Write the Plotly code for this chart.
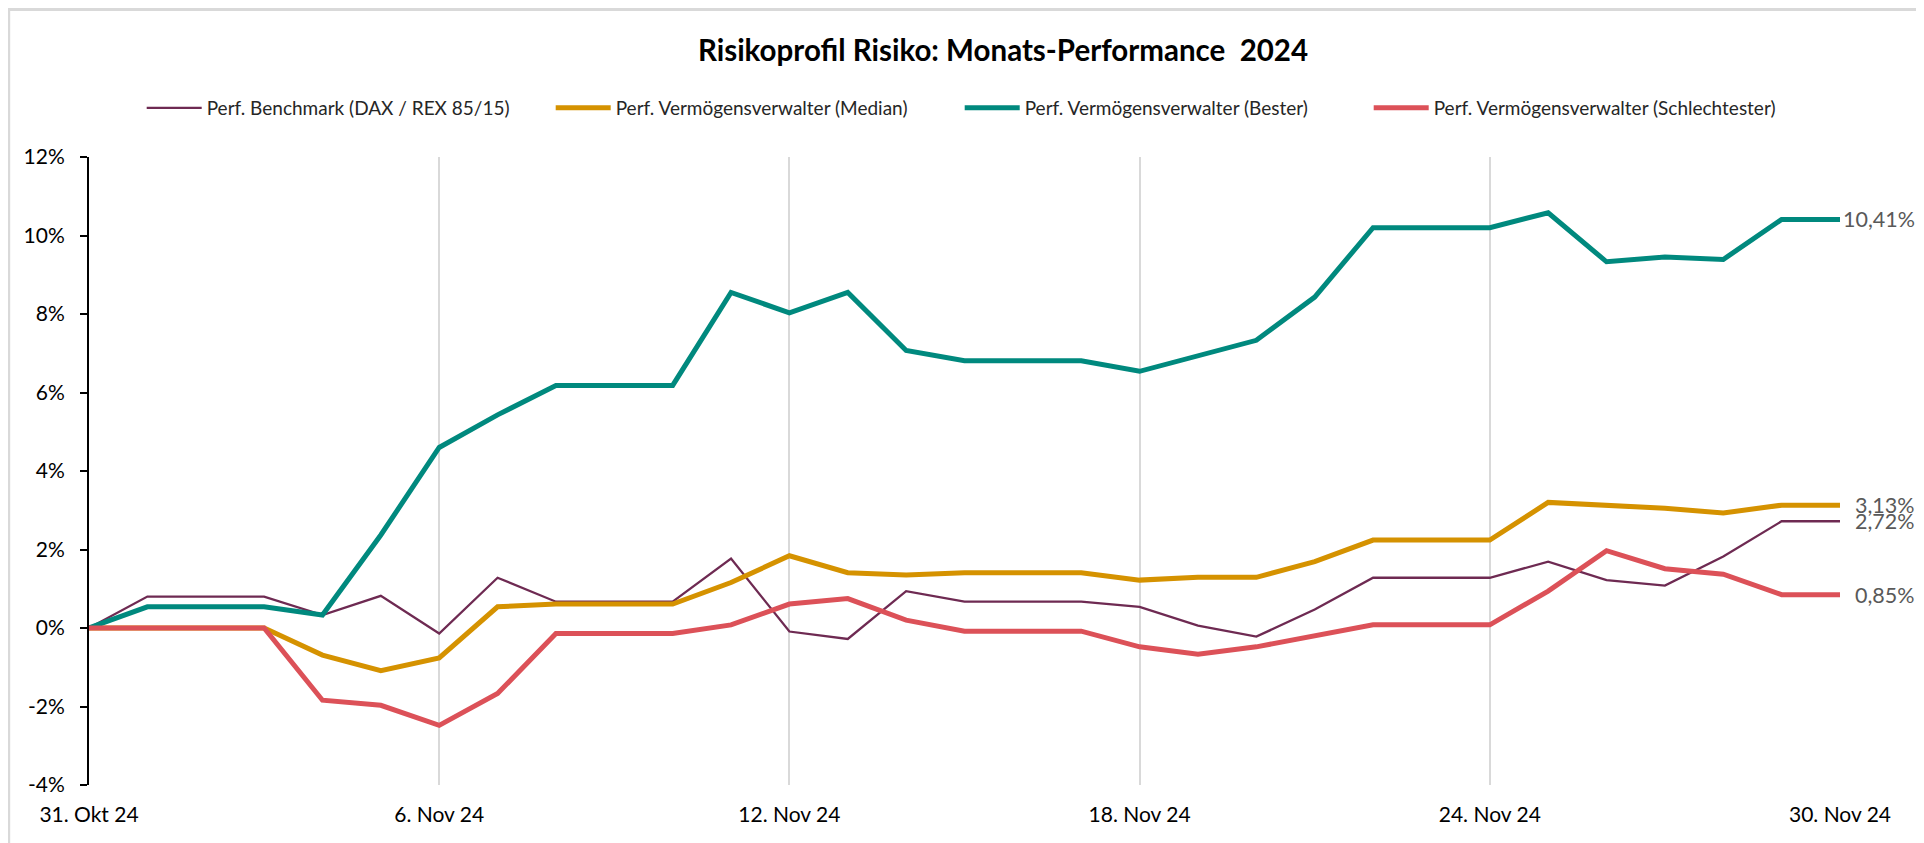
import plotly.graph_objects as go
import pandas as pd

# ---------------- data ----------------
dates = pd.date_range("2024-10-31", "2024-11-30", freq="D")

benchmark = [0.00, 0.80, 0.80, 0.80, 0.33, 0.82, -0.14, 1.28, 0.67, 0.67, 0.67,
             1.77, -0.09, -0.28, 0.94, 0.67, 0.67, 0.67, 0.54, 0.06, -0.22,
             0.47, 1.28, 1.28, 1.28, 1.69, 1.22, 1.08, 1.82, 2.72, 2.72]
median = [0.00, 0.00, 0.00, 0.00, -0.69, -1.09, -0.76, 0.54, 0.61, 0.61, 0.61,
          1.16, 1.84, 1.41, 1.35, 1.41, 1.41, 1.41, 1.22, 1.29, 1.29,
          1.69, 2.24, 2.24, 2.24, 3.20, 3.14, 3.05, 2.93, 3.13, 3.13]
best = [0.00, 0.54, 0.54, 0.54, 0.33, 2.37, 4.60, 5.43, 6.18, 6.18, 6.18,
        8.55, 8.03, 8.55, 7.07, 6.81, 6.81, 6.81, 6.54, 6.94, 7.33,
        8.43, 10.20, 10.20, 10.20, 10.58, 9.33, 9.45, 9.39, 10.41, 10.41]
worst = [0.00, 0.00, 0.00, 0.00, -1.84, -1.97, -2.48, -1.67, -0.14, -0.14, -0.14,
         0.08, 0.61, 0.75, 0.20, -0.08, -0.08, -0.08, -0.48, -0.67, -0.48,
         -0.20, 0.08, 0.08, 0.08, 0.94, 1.97, 1.51, 1.37, 0.85, 0.85]

series_names = [
    "Perf. Benchmark (DAX / REX 85/15)",
    "Perf. Vermögensverwalter (Median)",
    "Perf. Vermögensverwalter (Bester)",
    "Perf. Vermögensverwalter (Schlechtester)",
]
series_values = [benchmark, median, best, worst]

x_tickvals = ["2024-10-31", "2024-11-06", "2024-11-12", "2024-11-18", "2024-11-24", "2024-11-30"]
x_ticktext = ["31. Okt 24", "6. Nov 24", "12. Nov 24", "18. Nov 24", "24. Nov 24", "30. Nov 24"]
y_tickvals = [-4, -2, 0, 2, 4, 6, 8, 10, 12]
y_ticktext = ["-4%", "-2%", "0%", "2%", "4%", "6%", "8%", "10%", "12%"]
labelled_series = [1, 2, 0, 3]  # end-of-line value labels
title_text = "<b>Risikoprofil Risiko: Monats-Performance  2024</b>"

# ---------------- styles ----------------
colors = ["#6E2A52", "#D59200", "#00897E", "#DC5158"]
widths = [2.3, 5.0, 5.0, 5.0]
FONT = "Lato, 'Liberation Sans', sans-serif"

OFF = 8  # page body margin: figure starts at (8, 8) in the page
W, H = 1924 - OFF, 843 - OFF
# plot area in page pixels
P_L, P_R, P_T, P_B = 89.3, 1840.3, 157, 785
ML, MR = P_L - OFF, W - (P_R - OFF)
MT, MB = P_T - OFF, H - (P_B - OFF)
PW, PH = W - ML - MR, H - MT - MB


def px2paper_x(px):  # page pixel -> paper fraction
    return (px - OFF - ML) / PW


def px2paper_y(py):
    return (P_B - py) / PH


fig = go.Figure()
for name, vals, c, w in zip(series_names, series_values, colors, widths):
    fig.add_trace(go.Scatter(x=dates, y=vals, name=name, mode="lines",
                             line=dict(color=c, width=w), hoverinfo="skip"))

# end labels
for i in labelled_series:
    v = series_values[i][-1]
    fig.add_annotation(x=dates[-1], y=v, xref="x", yref="y",
                       text=f"{v:.2f}%".replace(".", ","), showarrow=False,
                       xanchor="right", yanchor="middle", xshift=77,
                       font=dict(family=FONT, size=21.5, color="#595959"))

# outer frame
fig.add_shape(type="rect", xref="paper", yref="paper",
              x0=px2paper_x(9), x1=px2paper_x(1921.5),
              y0=px2paper_y(880), y1=px2paper_y(9.5),
              line=dict(color="#D9D9D9", width=3), layer="below")

yr = [-4, 12]
fig.update_layout(
    width=W, height=H,
    margin=dict(l=ML, r=MR, t=MT, b=MB, pad=0, autoexpand=False),
    paper_bgcolor="white", plot_bgcolor="white",
    font=dict(family=FONT, color="black"),
    title=dict(text=title_text, x=(1003 - OFF) / W, xref="container", xanchor="center",
               y=1 - (51 - OFF) / H, yref="container", yanchor="middle",
               font=dict(family=FONT, size=29.5, color="black")),
    showlegend=True,
    legend=dict(orientation="h", x=px2paper_x(142), xanchor="left",
                y=px2paper_y(108), yanchor="middle",
                font=dict(family=FONT, size=19, color="#262626"),
                itemwidth=55,
                entrywidth=339, entrywidthmode="pixels",
                bgcolor="rgba(0,0,0,0)", traceorder="normal"),
    xaxis=dict(type="date", range=[dates[0], dates[-1]], automargin=False,
               tickmode="array", tickvals=x_tickvals, ticktext=x_ticktext,
               showgrid=True, gridcolor="#D9D9D9", gridwidth=2,
               showline=False, zeroline=False, ticks="",
               ticklabelstandoff=15,
               tickfont=dict(family=FONT, size=21, color="black")),
    xaxis2=dict(type="date", range=[dates[0], dates[-1]], overlaying="x",
                anchor="free", position=(0 - yr[0]) / (yr[1] - yr[0]),
                automargin=False,
                tickmode="array", tickvals=x_tickvals, showticklabels=False,
                showgrid=False, zeroline=False, showline=True,
                linecolor="black", linewidth=2,
                ticks="outside", ticklen=7, tickwidth=2, tickcolor="black",
                layer="below traces"),
    yaxis=dict(range=yr, tickmode="array", tickvals=y_tickvals, ticktext=y_ticktext,
               automargin=False,
               showgrid=False, zeroline=False, showline=True,
               linecolor="black", linewidth=2,
               ticks="outside", ticklen=7, tickwidth=2, tickcolor="black",
               ticklabelstandoff=11,
               tickfont=dict(family=FONT, size=21, color="black")),
)

fig.write_html("out.html")
